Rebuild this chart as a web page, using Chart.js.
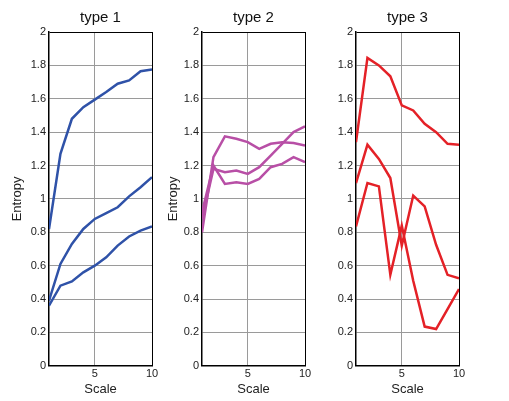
<!DOCTYPE html>
<html lang="en">
<head>
<meta charset="UTF-8">
<title>Entropy vs Scale</title>
<script src="https://cdn.jsdelivr.net/npm/chart.js"></script>
<style>
    body { margin: 0; background: #fff; width: 509px; height: 401px; position: relative; overflow: hidden; }
    .panel { position: absolute; top: 0; height: 401px; }
</style>
</head>
<body>
<div class="panel" id="p1" style="left:0px; width:162px;"><canvas id="c1"></canvas></div>
<div class="panel" id="p2" style="left:160px; width:155px;"><canvas id="c2"></canvas></div>
<div class="panel" id="p3" style="left:320px; width:149px;"><canvas id="c3"></canvas></div>

<script>
// x values (scale 1..10)
const scales = [1, 2, 3, 4, 5, 6, 7, 8, 9, 10];
const yTicks = [0, 0.2, 0.4, 0.6, 0.8, 1, 1.2, 1.4, 1.6, 1.8, 2];
const titles = ['type 1', 'type 2', 'type 3'];

// type 1 (blue)
const type1a = [0.82, 1.27, 1.48, 1.55, 1.595, 1.64, 1.69, 1.71, 1.765, 1.775];
const type1b = [0.39, 0.61, 0.73, 0.82, 0.88, 0.915, 0.95, 1.015, 1.07, 1.13];
const type1c = [0.36, 0.48, 0.505, 0.56, 0.60, 0.65, 0.72, 0.775, 0.81, 0.835];

// type 2 (purple)
const type2a = [0.80, 1.25, 1.375, 1.36, 1.34, 1.30, 1.33, 1.34, 1.335, 1.32];
const type2b = [0.88, 1.18, 1.16, 1.17, 1.15, 1.19, 1.26, 1.33, 1.40, 1.435];
const type2c = [0.92, 1.20, 1.09, 1.10, 1.09, 1.12, 1.19, 1.21, 1.25, 1.22];

// type 3 (red)
const type3a = [1.34, 1.845, 1.80, 1.735, 1.56, 1.53, 1.45, 1.40, 1.33, 1.325];
const type3b = [1.095, 1.325, 1.24, 1.125, 0.72, 1.02, 0.955, 0.725, 0.545, 0.525];
const type3c = [0.835, 1.095, 1.075, 0.545, 0.84, 0.51, 0.235, 0.22, 0.34, 0.46];

const FONT = "'Liberation Sans', Arial, sans-serif";

function toPoints(vals) {
    return vals.map((v, i) => ({ x: scales[i], y: v }));
}

function makePanel(id, title, series, color, axisW, yTitlePad, showYTitle) {
    const ctx = document.getElementById(id).getContext('2d');
    return new Chart(ctx, {
        type: 'line',
        data: {
            datasets: series.map(s => ({
                data: toPoints(s),
                borderColor: color,
                borderWidth: 2.5,
                pointRadius: 0,
                tension: 0,
                fill: false
            }))
        },
        options: {
            animation: false,
            responsive: true,
            maintainAspectRatio: false,
            layout: { padding: { top: 0, right: 10, bottom: 1, left: 0 } },
            plugins: {
                legend: { display: false },
                tooltip: { enabled: false },
                title: {
                    display: true,
                    text: title,
                    fullSize: false,  // centre over the plot area only
                    color: '#111',
                    font: { family: FONT, size: 15, weight: 'normal', lineHeight: 1.2 },
                    padding: { top: 9, bottom: 5 }
                }
            },
            scales: {
                x: {
                    type: 'linear',
                    min: 1,
                    max: 10,
                    afterBuildTicks: s => { s.ticks = [{ value: 5 }, { value: 10 }]; },
                    ticks: {
                        color: '#222',
                        font: { family: FONT, size: 11 },
                        padding: 2,
                        maxRotation: 0,
                        callback: v => String(v)
                    },
                    grid: {
                        drawTicks: false,
                        lineWidth: 1,
                        color: c => (c.tick && c.tick.value === 10) ? '#000' : '#9a9a9a'
                    },
                    border: { display: true, color: '#000', width: 1.5 },
                    title: {
                        display: true,
                        text: 'Scale',
                        color: '#222',
                        font: { family: FONT, size: 13, lineHeight: 1.0 },
                        padding: { top: 0, bottom: 4 }
                    }
                },
                y: {
                    type: 'linear',
                    min: 0,
                    max: 2,
                    afterBuildTicks: s => { s.ticks = yTicks.map(v => ({ value: v })); },
                    afterFit: s => { s.width = axisW; },
                    ticks: {
                        color: '#222',
                        font: { family: FONT, size: 11 },
                        padding: 3,
                        callback: v => String(Math.round(v * 10) / 10)
                    },
                    grid: {
                        drawTicks: false,
                        lineWidth: 1,
                        color: c => (c.tick && c.tick.value === 2) ? '#000' : '#9a9a9a'
                    },
                    border: { display: true, color: '#000', width: 1.5 },
                    title: {
                        display: showYTitle,
                        text: 'Entropy',
                        color: '#222',
                        font: { family: FONT, size: 13 },
                        padding: { top: yTitlePad, bottom: 2 }
                    }
                }
            }
        }
    });
}

makePanel('c1', titles[0], [type1a, type1b, type1c], '#2f52a8', 49, 10, true);
makePanel('c2', titles[1], [type2a, type2b, type2c], '#b84fa6', 42, 6, true);
makePanel('c3', titles[2], [type3a, type3b, type3c], '#e42127', 36, 0, false);
</script>
</body>
</html>
